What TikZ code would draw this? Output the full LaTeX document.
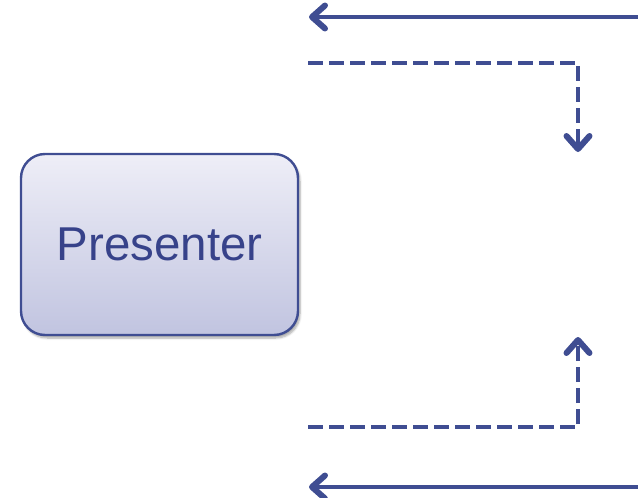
\documentclass[tikz,border=0pt]{standalone}
\usepackage{fontspec}
\setmainfont{Liberation Sans}
\usetikzlibrary{arrows.meta,shadows.blur}
\definecolor{linkblue}{HTML}{3F4D92}
\definecolor{textblue}{HTML}{37428A}
\definecolor{boxtop}{HTML}{EEEEF7}
\definecolor{boxbottom}{HTML}{C1C4E0}
\tikzset{
  presenterbox/.style={draw=linkblue, line width=2.4pt, rounded corners=24pt,
    top color=boxtop, bottom color=boxbottom,
    minimum width=277pt, minimum height=181pt, inner sep=0pt,
    text=textblue, font=\fontsize{47.5}{52}\selectfont,
    blur shadow={shadow xshift=2pt, shadow yshift=-3pt, shadow blur steps=6, shadow opacity=35}},
  flow/.style={draw=linkblue, line width=4pt,
    -{Straight Barb[length=13pt,width=23pt,line width=6pt,round]}},
  dashflow/.style={flow, dash pattern=on 15pt off 6pt},
}
\begin{document}
\begin{tikzpicture}[x=1pt,y=-1pt]
  \useasboundingbox (0,0) rectangle (638,498);
  \node[presenterbox] (presenter) at (159.5,244.5) {\raisebox{-2pt}{Presenter}};
  % free ends of the four channels
  \coordinate (inTopStart) at (640,17);
  \coordinate (inTopEnd) at (309,17);
  \coordinate (outTopStart) at (308,63);
  \coordinate (outTopBend) at (578,63);
  \coordinate (outTopEnd) at (578,152);
  \coordinate (outBotStart) at (308,427);
  \coordinate (outBotBend) at (578,427);
  \coordinate (outBotEnd) at (578,337);
  \coordinate (inBotStart) at (640,487);
  \coordinate (inBotEnd) at (309,487);
  \draw[flow] (inTopStart) -- (inTopEnd);
  \draw[dashflow] (outTopStart) -- (outTopBend) -- (outTopEnd);
  \draw[dashflow] (outBotStart) -- (outBotBend) -- (outBotEnd);
  \draw[flow] (inBotStart) -- (inBotEnd);
\end{tikzpicture}
\end{document}
